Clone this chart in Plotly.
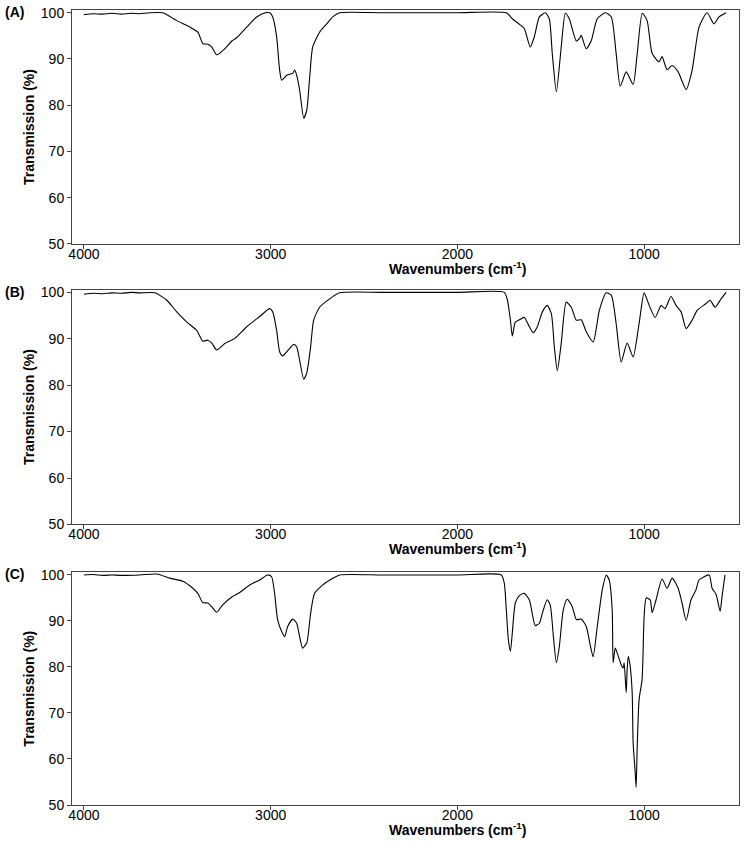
import plotly.graph_objects as go

# ---------------- data ----------------
wn_a = [4000, 3950, 3900, 3850, 3800, 3750, 3700, 3650, 3578, 3503, 3433, 3390, 3363, 3337, 3316,
        3289, 3246, 3208, 3182, 3128, 3075, 3027, 3005, 2989, 2968, 2952, 2941, 2914, 2882, 2872,
        2861, 2845, 2823, 2807, 2791, 2775, 2738, 2700, 2668, 2631, 2400, 2000, 1738, 1706, 1668,
        1642, 1610, 1588, 1561, 1529, 1508, 1492, 1470, 1444, 1422, 1401, 1363, 1347, 1337, 1310,
        1283, 1251, 1208, 1176, 1150, 1128, 1096, 1059, 1037, 1010, 984, 957, 920, 904, 877,
        850, 818, 775, 743, 706, 663, 626, 599, 561]
t_a = [99.6, 99.8, 99.7, 99.9, 99.7, 99.9, 99.8, 100.0, 100.0, 98.3, 96.9, 95.8, 93.3, 93.2, 92.6,
       90.9, 92.2, 93.9, 94.6, 96.9, 99.1, 100.0, 100.0, 99.1, 94.8, 87.6, 85.4, 86.5, 86.9, 87.6,
       86.5, 83.3, 77.2, 78.9, 86.1, 92.6, 95.8, 97.6, 99.1, 100.0, 100.0, 100.0, 100.0, 98.7, 97.5,
       96.6, 92.6, 94.8, 99.1, 100.0, 98.7, 91.2, 82.9, 92.6, 99.9, 98.7, 93.9, 94.4, 95.1, 92.2,
       94.0, 98.7, 100.0, 99.1, 91.2, 84.1, 87.2, 84.5, 91.2, 99.9, 98.3, 91.2, 89.4, 90.5, 87.7,
       88.6, 87.2, 83.4, 87.6, 96.9, 100.0, 97.6, 99.1, 100.0]

wn_b = [4000, 3950, 3900, 3850, 3800, 3750, 3700, 3620, 3556, 3503, 3449, 3396, 3364, 3337, 3316,
        3289, 3246, 3192, 3128, 3059, 3005, 2989, 2968, 2952, 2936, 2914, 2877, 2861, 2845, 2823,
        2807, 2786, 2770, 2738, 2684, 2631, 2400, 2000, 1749, 1732, 1716, 1706, 1690, 1668, 1642,
        1615, 1594, 1572, 1545, 1519, 1497, 1481, 1465, 1444, 1417, 1390, 1363, 1337, 1310, 1273,
        1240, 1203, 1176, 1150, 1123, 1091, 1059, 1027, 1000, 973, 941, 909, 888, 856, 829,
        802, 775, 743, 716, 668, 647, 620, 588, 561]
t_b = [99.6, 99.8, 99.7, 99.9, 99.8, 100.0, 99.9, 99.9, 98.3, 95.8, 93.6, 91.8, 89.5, 89.7, 89.1,
       87.6, 89.0, 90.1, 92.6, 94.8, 96.5, 95.8, 91.8, 87.2, 86.3, 87.2, 88.8, 88.3, 85.4, 81.3,
       82.6, 88.3, 94.0, 96.8, 98.6, 99.9, 100.0, 100.0, 100.0, 98.3, 94.0, 90.6, 93.6, 94.1, 94.6,
       92.6, 91.3, 92.6, 95.8, 97.2, 95.4, 88.3, 83.1, 89.0, 97.9, 96.8, 94.0, 94.1, 91.5, 89.3,
       96.1, 99.9, 99.4, 93.3, 85.0, 89.1, 86.1, 93.3, 99.9, 97.2, 94.6, 97.2, 96.5, 99.1, 97.2,
       95.8, 92.2, 94.0, 96.1, 97.6, 98.3, 96.8, 98.6, 100.0]

wn_c = [4000, 3950, 3900, 3850, 3800, 3700, 3610, 3540, 3471, 3417, 3390, 3364, 3337, 3316, 3289,
        3257, 3208, 3166, 3112, 3059, 3016, 2995, 2979, 2963, 2941, 2925, 2909, 2882, 2861, 2845,
        2829, 2807, 2786, 2765, 2722, 2674, 2631, 2400, 2000, 1765, 1749, 1738, 1727, 1716, 1706,
        1690, 1668, 1642, 1615, 1583, 1561, 1545, 1519, 1503, 1486, 1470, 1454, 1433, 1412, 1385,
        1363, 1337, 1310, 1289, 1273, 1251, 1224, 1203, 1187, 1171, 1166, 1155, 1144, 1123, 1112,
        1107, 1096, 1091, 1085, 1075, 1064, 1059, 1048, 1043, 1037, 1027, 1011, 1000, 989, 968,
        957, 936, 904, 877, 850, 818, 797, 775, 749, 722, 706, 652, 636, 615, 593,
        583, 567]
t_c = [100.0, 100.1, 99.9, 100.0, 99.9, 100.0, 100.2, 99.3, 98.6, 97.1, 96.0, 94.0, 93.9, 93.1, 91.9,
       93.5, 95.2, 96.2, 97.8, 98.9, 100.0, 99.6, 96.0, 90.3, 87.7, 86.6, 88.8, 90.4, 89.5, 86.6,
       84.1, 85.2, 91.7, 96.0, 97.8, 99.1, 100.0, 100.0, 100.0, 100.0, 98.2, 92.4, 85.9, 83.4, 87.4,
       93.9, 95.5, 96.0, 94.6, 89.0, 89.5, 91.7, 94.6, 93.5, 86.6, 80.9, 84.5, 92.4, 94.7, 93.1,
       90.3, 90.4, 88.8, 84.8, 82.2, 88.8, 96.8, 100.0, 98.9, 92.4, 80.9, 84.1, 83.0, 80.5, 79.8,
       80.9, 74.4, 79.4, 82.3, 80.2, 74.4, 63.6, 57.1, 53.8, 62.8, 72.9, 77.3, 91.0, 95.0, 94.6,
       91.8, 94.6, 99.1, 97.1, 99.3, 97.1, 93.9, 90.1, 94.6, 96.8, 98.9, 100.0, 97.1, 95.8, 92.1,
       95.3, 100.0]

panel_labels = ["(A)", "(B)", "(C)"]
x_ticks = [4000, 3000, 2000, 1000]
y_ticks = [50, 60, 70, 80, 90, 100]
x_title = "<b>Wavenumbers (cm<sup>-1</sup>)</b>"
y_title = "<b>Transmission (%)</b>"

# ---------------- figure ----------------
W, H = 745, 852
L, R, T, B = 72, 5, 6, 47
PW, PH = W - L - R, H - T - B

def px_x(px):
    return (px - L) / PW

def px_y(py):
    return (H - B - py) / PH

FONT = "Liberation Sans"
AX = "#444444"

series = [(wn_a, t_a), (wn_b, t_b), (wn_c, t_c)]
panel_px = [(6, 241), (287, 523), (571, 805)]

fig = go.Figure()
layout = dict(
    width=W, height=H,
    margin=dict(l=L, r=R, t=T, b=B),
    paper_bgcolor="white", plot_bgcolor="white",
    showlegend=False,
    font=dict(family=FONT, size=14, color="black"),
)
annotations = []
for i, ((xs, ys), (top, bot)) in enumerate(zip(series, panel_px)):
    n = "" if i == 0 else str(i + 1)
    fig.add_trace(go.Scatter(
        x=xs, y=ys, mode="lines",
        line=dict(color="black", width=1.1, shape="spline", smoothing=0.6),
        xaxis="x" + n, yaxis="y" + n, hoverinfo="skip",
    ))
    layout["xaxis" + n] = dict(
        domain=[0, 1], anchor="y" + n, range=[4064, 492],
        tickvals=x_ticks, ticktext=[str(v) for v in x_ticks],
        ticks="outside", ticklen=4, tickcolor=AX, tickwidth=1,
        ticklabelstandoff=-7,
        showline=True, linecolor=AX, linewidth=1, mirror=True,
        showgrid=False, zeroline=False,
        tickfont=dict(family=FONT, size=14, color="black"),
    )
    layout["yaxis" + n] = dict(
        domain=[px_y(bot), px_y(top)], anchor="x" + n, range=[50, 100.6],
        tickvals=y_ticks, ticktext=[str(v) for v in y_ticks],
        ticks="outside", ticklen=4, tickcolor=AX, tickwidth=1,
        showline=True, linecolor=AX, linewidth=1, mirror=True,
        showgrid=False, zeroline=False,
        tickfont=dict(family=FONT, size=14, color="black"),
    )
    annotations.append(dict(
        text="<b>" + panel_labels[i] + "</b>", xref="paper", yref="paper",
        x=px_x(3), y=px_y(top + 2), xanchor="left", yanchor="middle",
        showarrow=False, font=dict(family=FONT, size=14, color="black"),
    ))
    annotations.append(dict(
        text=x_title, xref="paper", yref="paper",
        x=px_x(458), y=px_y(bot + 24), xanchor="center", yanchor="middle",
        showarrow=False, font=dict(family=FONT, size=14, color="black"),
    ))
    annotations.append(dict(
        text=y_title, xref="paper", yref="paper", textangle=-90,
        x=px_x(29), y=px_y((top + bot) / 2), xanchor="center", yanchor="middle",
        showarrow=False, font=dict(family=FONT, size=14, color="black"),
    ))
layout["annotations"] = annotations
fig.update_layout(**layout)
fig.write_html(
    "out.html",
    config={"displayModeBar": False},
    post_script="document.body.style.margin='0';document.body.style.padding='0';",
)
